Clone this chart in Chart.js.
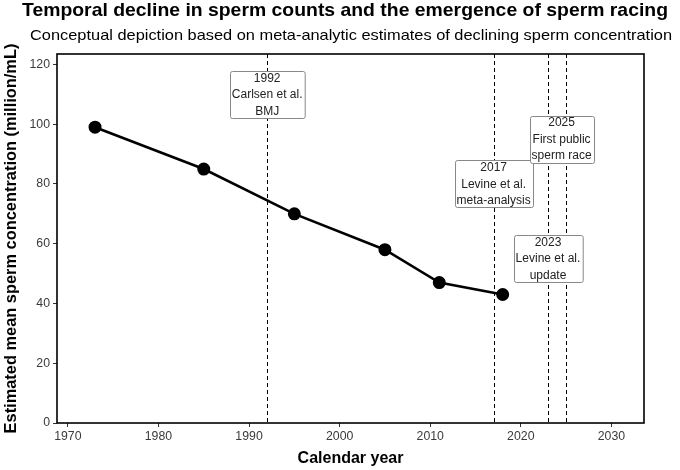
<!DOCTYPE html>
<html>
<head>
<meta charset="utf-8">
<script src="https://cdn.jsdelivr.net/npm/chart.js@4.4.1/dist/chart.umd.min.js"></script>
<style>
  html, body { margin: 0; padding: 0; background: #fff; }
  #wrap { width: 680px; height: 470px; }
</style>
</head>
<body>
<div id="wrap"><canvas id="chart"></canvas></div>
<script>
// data
const years = [1973, 1985, 1995, 2005, 2011, 2018];
const concentration = [99, 85, 70, 58, 47, 43];

const eventYears = [1992, 2017, 2023, 2025];
const eventLabels = [
  ["1992", "Carlsen et al.", "BMJ"],
  ["2017", "Levine et al.", "meta-analysis"],
  ["2023", "Levine et al.", "update"],
  ["2025", "First public", "sperm race"]
];
const labelX = [1992, 2017, 2023, 2024.5];
const labelY = [110, 80, 55, 95];

const xTicks = [1970, 1980, 1990, 2000, 2010, 2020, 2030];
const yTicks = [0, 20, 40, 60, 80, 100, 120];

const titleText = "Temporal decline in sperm counts and the emergence of sperm racing";
const subtitleText = "Conceptual depiction based on meta-analytic estimates of declining sperm concentration";

const FONT = "'Liberation Sans', Arial, Helvetica, sans-serif";

const points = years.map((y, i) => ({ x: y, y: concentration[i] }));

// text drawn to a given width (the reference type is a little wide)
function wideText(ctx, text, cx, baseline, width) {
  const k = width / ctx.measureText(text).width;
  ctx.save();
  ctx.translate(cx, baseline);
  ctx.scale(k, 1);
  ctx.textAlign = 'center';
  ctx.textBaseline = 'alphabetic';
  ctx.fillText(text, 0, 0);
  ctx.restore();
}

// dashed event lines, behind the series
const eventLines = {
  id: 'eventLines',
  beforeDatasetsDraw(chart) {
    const { ctx, chartArea, scales } = chart;
    ctx.save();
    ctx.strokeStyle = '#000';
    ctx.lineWidth = 1;
    ctx.setLineDash([4, 3]);
    eventYears.forEach(yr => {
      const px = Math.round(scales.x.getPixelForValue(yr)) + 0.5;
      ctx.beginPath();
      ctx.moveTo(px, chartArea.top);
      ctx.lineTo(px, chartArea.bottom);
      ctx.stroke();
    });
    ctx.restore();
  }
};

// label boxes, panel border and titles
const overlay = {
  id: 'overlay',
  afterDraw(chart) {
    const { ctx, chartArea, scales } = chart;
    ctx.save();

    ctx.font = '12px ' + FONT;
    ctx.textAlign = 'center';
    ctx.textBaseline = 'middle';
    const lh = 16.5;
    eventLabels.forEach((lines, i) => {
      const cx = scales.x.getPixelForValue(labelX[i]);
      const cy = scales.y.getPixelForValue(labelY[i]);
      const w = Math.max(...lines.map(l => ctx.measureText(l).width)) + 4;
      const h = lh * (lines.length - 1) + 14;
      const x0 = Math.round(cx - w / 2) + 0.5, y0 = Math.round(cy - h / 2) + 0.5;
      ctx.beginPath();
      ctx.roundRect(x0, y0, w, h, 2);
      ctx.fillStyle = '#fff';
      ctx.fill();
      ctx.strokeStyle = '#888';
      ctx.lineWidth = 1;
      ctx.stroke();
      ctx.fillStyle = '#222';
      lines.forEach((l, j) => {
        ctx.fillText(l, cx, cy + 0.5 + (j - (lines.length - 1) / 2) * lh);
      });
    });

    ctx.strokeStyle = '#000';
    ctx.lineWidth = 1.6;
    ctx.strokeRect(chartArea.left, chartArea.top, chartArea.right - chartArea.left, chartArea.bottom - chartArea.top);

    ctx.fillStyle = '#000';
    ctx.font = 'bold 17.8px ' + FONT;
    wideText(ctx, titleText, 345, 16.3, 646);
    ctx.font = '14.2px ' + FONT;
    wideText(ctx, subtitleText, 351, 39.5, 642);
    ctx.restore();
  }
};

new Chart(document.getElementById('chart'), {
  type: 'line',
  data: {
    datasets: [{
      data: points,
      borderColor: '#000',
      backgroundColor: '#000',
      borderWidth: 2.6,
      pointRadius: 5.2,
      pointHoverRadius: 5.2,
      tension: 0,
      fill: false
    }]
  },
  options: {
    responsive: true,
    maintainAspectRatio: false,
    animation: false,
    layout: { padding: { top: 54, right: 36, left: 0, bottom: 0 } },
    plugins: {
      legend: { display: false },
      tooltip: { enabled: false }
    },
    scales: {
      x: {
        type: 'linear',
        min: 1968.8,
        max: 2033.6,
        afterBuildTicks: s => { s.ticks = xTicks.map(v => ({ value: v })); },
        afterFit: s => { s.height = 47; },
        grid: { drawOnChartArea: false, drawTicks: true, tickLength: 4, tickColor: '#333' },
        border: { display: false },
        ticks: { color: '#3a3a3a', font: { family: FONT, size: 12.3 }, padding: 2, maxRotation: 0, callback: v => String(v) },
        title: { display: true, text: 'Calendar year', color: '#000', font: { family: FONT, size: 16, weight: 'bold' }, padding: { top: 0, bottom: 2 } }
      },
      y: {
        min: 0,
        max: 123.5,
        afterBuildTicks: s => { s.ticks = yTicks.map(v => ({ value: v })); },
        afterFit: s => { s.width = 57; },
        grid: { drawOnChartArea: false, drawTicks: true, tickLength: 4, tickColor: '#333' },
        border: { display: false },
        ticks: { color: '#3a3a3a', font: { family: FONT, size: 12.3 }, padding: 3 },
        title: { display: true, text: 'Estimated mean sperm concentration (million/mL)', color: '#000', font: { family: FONT, size: 16.4, weight: 'bold' }, padding: { top: 2, bottom: 0 } }
      }
    }
  },
  plugins: [eventLines, overlay]
});
</script>
</body>
</html>
